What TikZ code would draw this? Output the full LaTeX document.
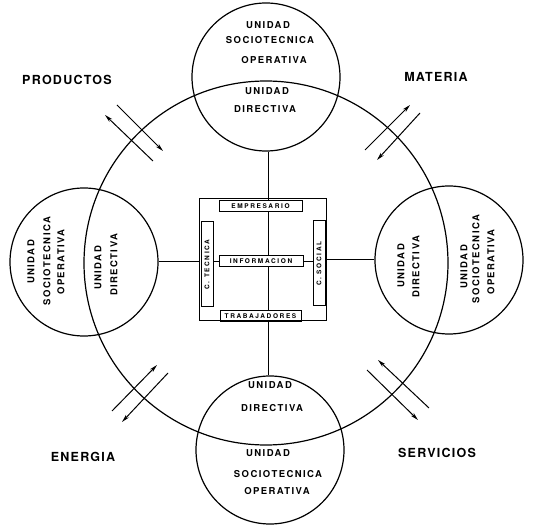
\documentclass[tikz,border=0pt]{standalone}
\usepackage{fontspec}
\usetikzlibrary{arrows.meta}
\newfontfamily\bigf[LetterSpace=10]{TeX Gyre Heros}
\newfontfamily\midf[LetterSpace=15]{TeX Gyre Heros}
\newfontfamily\smf[LetterSpace=25]{TeX Gyre Heros}
\tikzset{
  unit/.style={circle, draw, line width=1.2pt, minimum size=148pt, inner sep=0pt},
  big/.style={font=\bigf\bfseries\fontsize{12.5}{14}\selectfont, inner sep=0pt},
  mid/.style={font=\midf\bfseries\fontsize{9.5}{10}\selectfont, inner sep=0pt},
  sm/.style={font=\smf\bfseries\fontsize{6.5}{7}\selectfont},
  hbox/.style={draw, line width=1pt, sm, inner sep=0pt, minimum height=11pt},
  vbox/.style={draw, line width=1pt, sm, inner sep=0pt, minimum height=12pt, minimum width=85pt, rotate=90},
  conn/.style={line width=1pt},
  flow/.style={line width=1pt, -{Stealth[length=8pt,width=4pt]}}
}
\begin{document}
\begin{tikzpicture}[x=1pt,y=-1pt]
\useasboundingbox (0,0) rectangle (533,526);
% big circle
\node[circle, draw, line width=1.2pt, minimum size=364pt, inner sep=0pt] (org) at (266,263) {};
% unit circles
\node[unit] (top) at (266,77) {};
\node[unit] (bot) at (270,450) {};
\node[unit] (lft) at (84,262) {};
\node[unit] (rgt) at (449,260) {};
% central frame and boxes
\node[draw, line width=1pt, minimum width=127pt, minimum height=122pt, inner sep=0pt] (frame) at (262.5,260) {};
\node[hbox, minimum width=83pt] (emp) at (260.5,206.5) {EMPRESARIO};
\node[hbox, minimum width=81pt] (trab) at (260.5,316.5) {TRABAJADORES};
\node[hbox, minimum width=84pt] (info) at (261,261.5) {INFORMACION};
\node[vbox] (ctec) at (207,264.5) {C. TECNICA};
\node[vbox] (csoc) at (319,263.5) {C. SOCIAL};
% connectors
\coordinate (vx) at (268,0);
\draw[conn] (vx |- top.south) -- (vx |- emp.north);
\draw[conn] (vx |- emp.south) -- (vx |- info.north);
\draw[conn] (vx |- info.south) -- (vx |- trab.north);
\draw[conn] (vx |- trab.south) -- (vx |- bot.north);
\draw[conn] (lft.east) -- (frame.west |- lft.east);
\draw[conn] (ctec.south |- info.west) -- (info.west);
\draw[conn] (info.east) -- (csoc.north |- info.east);
\draw[conn] (frame.east |- rgt.west) -- (rgt.west);
% top unit texts
\node[mid] (t1) at (268,25) {UNIDAD};
\node[mid] (t2) at (270,40) {SOCIOTECNICA};
\node[mid] (t3) at (274,60) {OPERATIVA};
\node[mid] (t4) at (267,91) {UNIDAD};
\node[mid] (t5) at (265,109) {DIRECTIVA};
% bottom unit texts
\node[mid] (b1) at (270,385) {UNIDAD};
\node[mid] (b2) at (272,408) {DIRECTIVA};
\node[mid] (b3) at (268,453) {UNIDAD};
\node[mid] (b4) at (278,474) {SOCIOTECNICA};
\node[mid] (b5) at (277,491) {OPERATIVA};
% left unit texts
\node[mid, rotate=90] (l1) at (31,262) {UNIDAD};
\node[mid, rotate=90] (l2) at (47,261) {SOCIOTECNICA};
\node[mid, rotate=90] (l3) at (61,262) {OPERATIVA};
\node[mid, rotate=90] (l4) at (98,268) {UNIDAD};
\node[mid, rotate=90] (l5) at (114,265) {DIRECTIVA};
% right unit texts
\node[mid, rotate=90] (r1) at (401,266) {UNIDAD};
\node[mid, rotate=90] (r2) at (416,267) {DIRECTIVA};
\node[mid, rotate=90] (r3) at (464,267) {UNIDAD};
\node[mid, rotate=90] (r4) at (476,259) {SOCIOTECNICA};
\node[mid, rotate=90] (r5) at (491,262) {OPERATIVA};
% outer labels
\node[big] (prod) at (67,80) {PRODUCTOS};
\node[big] (mat) at (436,77) {MATERIA};
\node[big] (ener) at (83,457) {ENERGIA};
\node[big] (serv) at (437,453) {SERVICIOS};
% exchange arrows
\coordinate (pa1) at (117,105); \coordinate (pa2) at (163,151);
\coordinate (pb1) at (153,161); \coordinate (pb2) at (105,115);
\draw[flow] (pa1) -- (pa2);
\draw[flow] (pb1) -- (pb2);
\coordinate (ma1) at (365,150); \coordinate (ma2) at (410,105);
\coordinate (mb1) at (420,113); \coordinate (mb2) at (377,160);
\draw[flow] (ma1) -- (ma2);
\draw[flow] (mb1) -- (mb2);
\coordinate (ea1) at (112,411); \coordinate (ea2) at (157,365);
\coordinate (eb1) at (168,373); \coordinate (eb2) at (122,422);
\draw[flow] (ea1) -- (ea2);
\draw[flow] (eb1) -- (eb2);
\coordinate (sa1) at (429,408); \coordinate (sa2) at (378,360);
\coordinate (sb1) at (367,370); \coordinate (sb2) at (418,420);
\draw[flow] (sa1) -- (sa2);
\draw[flow] (sb1) -- (sb2);
\end{tikzpicture}
\end{document}
